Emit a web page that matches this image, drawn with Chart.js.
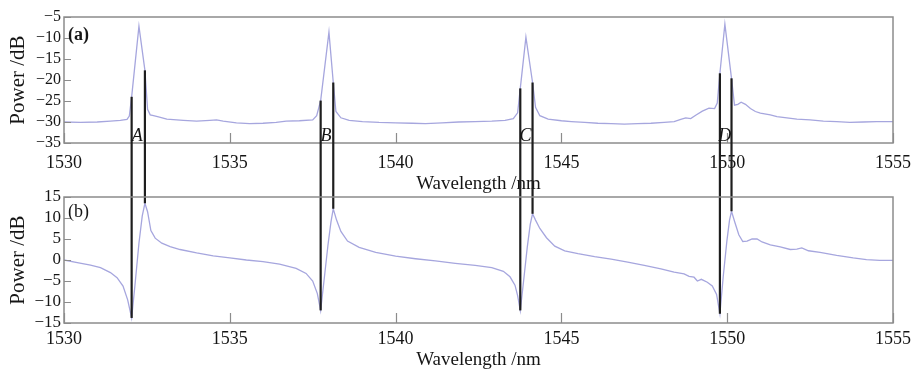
<!DOCTYPE html>
<html><head><meta charset="utf-8">
<script src="https://cdn.jsdelivr.net/npm/chart.js@4.4.0/dist/chart.umd.min.js"></script>
<style>
html,body{margin:0;padding:0;background:#fff;}
#wrap{position:relative;width:913px;height:373px;overflow:hidden;background:#fff;}
canvas{position:absolute;left:0;}
#ca{top:0;}
#cb{top:170px;}
</style></head><body>
<div id="wrap"><canvas id="ca" width="913" height="200"></canvas><canvas id="cb" width="913" height="203"></canvas></div>
<script>
// ---------- data ----------
const xTicks = [1530, 1535, 1540, 1545, 1550, 1555];
const yTicksA = [-35, -30, -25, -20, -15, -10, -5];
const yTicksB = [-15, -10, -5, 0, 5, 10, 15];

// panel (a): wavelength (nm) / power (dB)
const waveA = [1530.0,1530.5,1531.0,1531.4,1531.7,1531.9,1531.97,1532.04,1532.26,1532.44,
  1532.52,1532.6,1532.7,1532.85,1533.1,1533.6,1534.0,1534.4,1534.6,1534.8,
  1535.2,1535.6,1536.0,1536.4,1536.7,1537.1,1537.5,1537.62,1537.74,1537.99,
  1538.12,1538.2,1538.35,1538.6,1539.0,1539.5,1540.0,1540.5,1540.9,1541.4,
  1541.9,1542.4,1542.9,1543.3,1543.55,1543.68,1543.76,1543.93,1544.13,1544.22,
  1544.35,1544.6,1545.0,1545.3,1545.7,1546.1,1546.5,1546.9,1547.3,1547.7,
  1548.1,1548.4,1548.6,1548.75,1548.9,1549.05,1549.25,1549.45,1549.62,1549.7,
  1549.78,1549.93,1550.13,1550.22,1550.32,1550.42,1550.55,1550.7,1550.85,1551.0,
  1551.3,1551.5,1551.8,1552.1,1552.5,1552.9,1553.3,1553.7,1554.1,1554.5,1555.0];
const powA = [-30.0,-30.1,-30.0,-29.8,-29.6,-29.4,-28.6,-24.0,-7.2,-17.7,
  -27.0,-28.3,-28.5,-28.8,-29.3,-29.6,-29.8,-29.6,-29.5,-29.8,
  -30.2,-30.4,-30.3,-30.1,-29.8,-29.7,-29.5,-28.5,-24.9,-8.6,
  -20.6,-27.5,-29.0,-29.6,-29.9,-30.1,-30.2,-30.3,-30.4,-30.2,
  -30.0,-29.9,-29.8,-29.6,-29.2,-27.8,-22.0,-9.8,-20.6,-26.5,
  -28.5,-29.3,-29.7,-29.9,-30.1,-30.3,-30.4,-30.5,-30.4,-30.3,
  -30.1,-29.9,-29.4,-29.0,-29.2,-28.4,-27.4,-26.7,-26.8,-25.5,
  -18.4,-6.7,-19.6,-26.0,-25.8,-25.3,-25.8,-26.8,-27.5,-27.9,
  -28.3,-28.7,-29.0,-29.3,-29.5,-29.8,-29.9,-30.1,-30.0,-29.9,-29.9];

// panel (b): wavelength (nm) / power (dB)
const waveB = [1530.0,1530.4,1530.8,1531.1,1531.4,1531.6,1531.78,1531.92,1532.04,1532.14,
  1532.26,1532.36,1532.44,1532.52,1532.62,1532.75,1532.95,1533.2,1533.5,1534.0,
  1534.5,1535.0,1535.5,1536.0,1536.5,1537.0,1537.3,1537.5,1537.64,1537.74,
  1537.84,1537.96,1538.05,1538.12,1538.22,1538.35,1538.55,1538.9,1539.4,1540.0,
  1540.6,1541.2,1541.8,1542.4,1542.9,1543.25,1543.45,1543.6,1543.68,1543.76,
  1543.86,1543.97,1544.06,1544.13,1544.22,1544.35,1544.55,1544.8,1545.1,1545.5,
  1546.0,1546.5,1547.0,1547.5,1548.0,1548.4,1548.7,1548.85,1549.0,1549.1,
  1549.22,1549.4,1549.55,1549.68,1549.78,1549.88,1549.99,1550.07,1550.13,1550.23,
  1550.35,1550.47,1550.6,1550.75,1550.9,1551.05,1551.3,1551.6,1551.9,1552.1,
  1552.25,1552.45,1552.8,1553.3,1553.8,1554.2,1554.6,1555.0];
const powB = [0.0,-0.6,-1.2,-1.8,-3.0,-4.2,-6.2,-9.5,-13.8,-6.0,
  4.0,10.5,13.5,11.5,7.0,5.2,4.0,3.2,2.5,1.7,
  1.0,0.5,0.0,-0.4,-1.0,-2.0,-3.2,-5.0,-8.0,-12.0,
  -5.0,3.5,9.0,12.2,9.5,6.8,4.5,3.0,1.8,0.9,
  0.3,-0.2,-0.8,-1.3,-1.8,-2.7,-4.0,-6.0,-8.5,-12.0,
  -5.0,3.0,8.5,11.0,9.5,7.5,5.3,3.3,2.2,1.5,
  0.8,0.2,-0.5,-1.3,-2.1,-2.9,-3.3,-3.9,-4.1,-5.0,
  -4.6,-5.3,-6.2,-8.2,-12.8,-4.0,4.5,9.5,11.6,9.0,
  6.0,4.4,4.5,5.0,5.0,4.3,3.6,3.1,2.5,2.6,
  2.9,2.2,1.8,1.1,0.5,0.1,-0.1,-0.1];

// marker lines A–D
const markerNames = ['A', 'B', 'C', 'D'];
const markerLeft = [1532.04, 1537.74, 1543.76, 1549.78];
const markerRight = [1532.44, 1538.12, 1544.13, 1550.13];
const markerLeftTopA = [-24.0, -24.9, -22.0, -18.4];
const markerRightTopA = [-17.7, -20.6, -20.6, -19.6];
const markerLeftEndB = [-13.8, -12.0, -12.0, -12.8];
const markerRightEndB = [13.5, 12.2, 11.0, 11.6];

// ---------- style ----------
const FONT = "'Liberation Serif', 'Times New Roman', serif";
const CURVE = '#a6a6de';
const FRAME = '#8c8c8c';
const MARK = '#1e1e1e';
const TEXT = '#151515';
const TOP_H = 200, BOTTOM_OFFSET = 170; // canvas geometry
Chart.defaults.font.family = FONT;
Chart.defaults.color = TEXT;

const minus = v => String(v).replace('-', '\u2212');

function panelPlugin(cfg) {
  return {
    id: 'panel' + cfg.id,
    afterDraw(chart) {
      const {ctx, chartArea: a} = chart;
      const x = chart.scales.x, y = chart.scales.y;
      ctx.save();
      ctx.strokeStyle = FRAME; ctx.lineWidth = 1.5;
      ctx.strokeRect(a.left, a.top, a.right - a.left, a.bottom - a.top);
      ctx.lineWidth = 1.2;
      ctx.beginPath();
      x.ticks.forEach(t => { const px = Math.round(x.getPixelForValue(t.value)) + 0.5; ctx.moveTo(px, a.bottom); ctx.lineTo(px, a.bottom - 10); });
      y.ticks.forEach(t => { const py = Math.round(y.getPixelForValue(t.value)) + 0.5; ctx.moveTo(a.left, py); ctx.lineTo(a.left + 7, py); });
      ctx.stroke();
      // marker lines
      ctx.strokeStyle = MARK; ctx.lineWidth = 2.2;
      const draw = (wl, val) => {
        const px = x.getPixelForValue(wl), py = y.getPixelForValue(val);
        ctx.beginPath();
        if (cfg.down) { ctx.moveTo(px, py); ctx.lineTo(px, chart.height); }
        else { ctx.moveTo(px, TOP_H - BOTTOM_OFFSET); ctx.lineTo(px, py); }
        ctx.stroke();
      };
      markerLeft.forEach((wl, i) => draw(wl, cfg.leftVals[i]));
      markerRight.forEach((wl, i) => draw(wl, cfg.rightVals[i]));
      ctx.fillStyle = TEXT;
      if (cfg.letters) {
        ctx.font = 'italic 18px ' + FONT;
        ctx.textAlign = 'center'; ctx.textBaseline = 'middle';
        markerNames.forEach((n, i) => {
          const px = x.getPixelForValue((markerLeft[i] + markerRight[i]) / 2) - 1;
          ctx.fillText(n, px, a.bottom - 7);
        });
      }
      ctx.font = cfg.panelFont;
      ctx.textAlign = 'left'; ctx.textBaseline = 'middle';
      ctx.fillText(cfg.panel, a.left + 4, a.top + cfg.panelDy);
      ctx.restore();
    }
  };
}

function makeChart(id, o) {
  return new Chart(document.getElementById(id), {
    type: 'line',
    data: { datasets: [{
      data: o.wave.map((w, i) => ({ x: w, y: o.pow[i] })),
      borderColor: CURVE, borderWidth: 1.3, pointRadius: 0, tension: 0, fill: false
    }] },
    options: {
      responsive: false, animation: false, devicePixelRatio: 1,
      layout: { padding: { left: 0, right: 20, top: o.padTop, bottom: 0 } },
      plugins: { legend: { display: false }, tooltip: { enabled: false } },
      scales: {
        x: {
          type: 'linear', min: 1530, max: 1555,
          afterBuildTicks: s => { s.ticks = xTicks.map(v => ({ value: v })); },
          afterFit: s => { s.height = o.xHeight; s.paddingLeft = 0; s.paddingRight = 0; },
          ticks: { font: { size: 18 }, color: TEXT, padding: o.xTickPad, maxRotation: 0, autoSkip: false, callback: v => String(v) },
          grid: { display: false, drawTicks: false },
          border: { display: false },
          title: { display: true, text: 'Wavelength /nm', font: { size: 19 }, color: TEXT, padding: { top: 0, bottom: o.xTitlePad } }
        },
        y: {
          min: o.yTicks[0], max: o.yTicks[o.yTicks.length - 1],
          afterBuildTicks: s => { s.ticks = o.yTicks.map(v => ({ value: v })); },
          afterFit: s => { s.width = 64; },
          ticks: { font: { size: o.yTickSize }, color: TEXT, padding: 3, autoSkip: false, callback: v => minus(v) },
          grid: { display: false, drawTicks: false },
          border: { display: false },
          title: { display: true, text: 'Power /dB', font: { size: 21 }, color: TEXT, padding: { top: 6, bottom: 0 } }
        }
      }
    },
    plugins: [panelPlugin(o.plugin)]
  });
}

makeChart('ca', {
  wave: waveA, pow: powA, yTicks: yTicksA, padTop: 17, xHeight: 57, xTickPad: 9, xTitlePad: 5, yTickSize: 16,
  plugin: { id: 'a', panel: '(a)', panelFont: 'bold 18px ' + FONT, panelDy: 18, down: true, letters: true,
            leftVals: markerLeftTopA, rightVals: markerRightTopA }
});
makeChart('cb', {
  wave: waveB, pow: powB, yTicks: yTicksB, padTop: 27, xHeight: 50, xTickPad: 5, xTitlePad: 2, yTickSize: 17,
  plugin: { id: 'b', panel: '(b)', panelFont: '18px ' + FONT, panelDy: 15, down: false, letters: false,
            leftVals: markerLeftEndB, rightVals: markerRightEndB }
});
</script>
</body></html>
